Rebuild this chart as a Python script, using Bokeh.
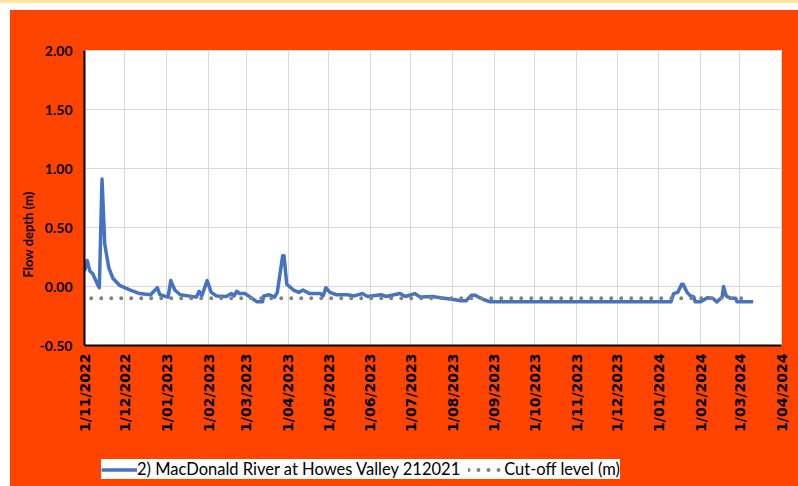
import pandas as pd
from bokeh.plotting import figure
from bokeh.layouts import column, row
from bokeh.models import (ColumnDataSource, FixedTicker, MonthsTicker, DatetimeTickFormatter,
                          NumeralTickFormatter, Legend, LegendItem, Range1d, Title, Spacer)
from bokeh.embed import file_html
from bokeh.resources import INLINE
from math import pi

# ---- data ----
river_dates = ["2022-11-01", "2022-11-03", "2022-11-05", "2022-11-07", "2022-11-11", "2022-11-12",
               "2022-11-14", "2022-11-16", "2022-11-19", "2022-11-22", "2022-11-27", "2022-12-05",
               "2022-12-12", "2022-12-20", "2022-12-25", "2022-12-27", "2023-01-02", "2023-01-04",
               "2023-01-07", "2023-01-11", "2023-01-23", "2023-01-25", "2023-01-27", "2023-01-31",
               "2023-02-03", "2023-02-07", "2023-02-14", "2023-02-18", "2023-02-20", "2023-02-22",
               "2023-02-24", "2023-02-28", "2023-03-04", "2023-03-09", "2023-03-13", "2023-03-14",
               "2023-03-18", "2023-03-22", "2023-03-24", "2023-03-28", "2023-03-29", "2023-03-31",
               "2023-04-05", "2023-04-09", "2023-04-12", "2023-04-17", "2023-04-25", "2023-04-27",
               "2023-04-29", "2023-05-02", "2023-05-07", "2023-05-15", "2023-05-20", "2023-05-26",
               "2023-05-30", "2023-06-09", "2023-06-13", "2023-06-23", "2023-06-27", "2023-07-04",
               "2023-07-08", "2023-07-17", "2023-07-23", "2023-08-02", "2023-08-07", "2023-08-11",
               "2023-08-15", "2023-08-18", "2023-08-21", "2023-08-24", "2023-08-29", "2023-10-15",
               "2023-12-01", "2024-01-10", "2024-01-12", "2024-01-15", "2024-01-18", "2024-01-19",
               "2024-01-22", "2024-01-24", "2024-01-27", "2024-01-28", "2024-02-01", "2024-02-06",
               "2024-02-10", "2024-02-13", "2024-02-17", "2024-02-18", "2024-02-20", "2024-02-23",
               "2024-02-27", "2024-02-28", "2024-03-11"]
river_depth = [0.13, 0.22, 0.13, 0.11, 0.01, -0.01,
               0.91, 0.36, 0.16, 0.07, 0.01, -0.03,
               -0.06, -0.07, -0.01, -0.07, -0.09, 0.05,
               -0.03, -0.07, -0.09, -0.04, -0.08, 0.05,
               -0.05, -0.08, -0.085, -0.06, -0.08, -0.04,
               -0.06, -0.06, -0.09, -0.13, -0.13, -0.08,
               -0.07, -0.09, -0.05, 0.26, 0.26, 0.02,
               -0.03, -0.05, -0.03, -0.06, -0.06, -0.08,
               -0.01, -0.05, -0.07, -0.07, -0.08, -0.06,
               -0.085, -0.07, -0.085, -0.06, -0.085, -0.06,
               -0.09, -0.085, -0.095, -0.11, -0.12, -0.12,
               -0.075, -0.075, -0.095, -0.11, -0.13, -0.13,
               -0.13, -0.13, -0.06, -0.05, 0.02, 0.02,
               -0.05, -0.075, -0.09, -0.13, -0.13, -0.095,
               -0.10, -0.13, -0.09, 0.0, -0.08, -0.10,
               -0.10, -0.13, -0.13]
cutoff_dates = ["2022-11-06", "2024-03-08"]
cutoff_level = [-0.10, -0.10]

y_ticks = [-0.5, 0.0, 0.5, 1.0, 1.5, 2.0]
x_start, x_end = "2022-11-01", "2024-04-01"

series_name = "2) MacDonald River at Howes Valley 212021"
cutoff_name = "Cut-off level (m)"
y_title = "Flow depth (m)"

ORANGE = "#FF4400"
BLUE = "#4472C4"
GREY = "#808080"

river = ColumnDataSource(dict(x=pd.to_datetime(river_dates), y=river_depth))
cutoff = ColumnDataSource(dict(x=pd.to_datetime(cutoff_dates), y=cutoff_level))

p = figure(width=788, height=430, x_axis_type="datetime", output_backend="svg",
           toolbar_location=None,
           x_range=Range1d(pd.Timestamp(x_start), pd.Timestamp(x_end)),
           y_range=Range1d(y_ticks[0], y_ticks[-1]))
p.min_border = 0
p.min_border_left = 74
p.min_border_right = 17
p.min_border_top = 40
p.min_border_bottom = 95
p.border_fill_color = ORANGE
p.background_fill_color = "white"
p.outline_line_color = "#d9d9d9"

line_style = dict(line_color=BLUE, line_width=3.5, line_join="round")
dot_style = dict(line_color=GREY, line_width=4, line_dash="0 10", line_cap="round")

p.line("x", "y", source=river, **line_style)
p.line("x", "y", source=cutoff, **dot_style)

# axes
p.xaxis.ticker = MonthsTicker(months=list(range(12)))
p.xaxis.formatter = DatetimeTickFormatter(days="1/%m/%Y", months="1/%m/%Y", years="1/%m/%Y")
p.xaxis.major_label_orientation = pi / 2
p.xaxis.major_label_text_font = "DejaVu Sans"
p.xaxis.major_label_text_font_style = "bold"
p.xaxis.major_label_text_font_size = "14px"
p.xaxis.major_label_text_color = "black"
p.xaxis.major_label_standoff = 8
p.xaxis.minor_tick_line_color = None
p.xaxis.major_tick_out = 0
p.xaxis.major_tick_in = 0
p.xaxis.axis_line_color = "black"
p.xaxis.axis_line_width = 2

p.yaxis.ticker = FixedTicker(ticks=y_ticks)
p.yaxis.formatter = NumeralTickFormatter(format="0.00")
p.yaxis.major_label_text_font = "Lato"
p.yaxis.major_label_text_font_style = "bold"
p.yaxis.major_label_text_font_size = "14px"
p.yaxis.major_label_text_color = "black"
p.yaxis.major_label_standoff = 12
p.yaxis.minor_tick_line_color = None
p.yaxis.major_tick_out = 0
p.yaxis.major_tick_in = 0
p.yaxis.axis_line_color = "black"
p.yaxis.axis_line_width = 2

p.xgrid.grid_line_color = "#d9d9d9"
p.ygrid.grid_line_color = "#d9d9d9"
p.xgrid.ticker = p.xaxis.ticker
p.ygrid.ticker = p.yaxis.ticker

p.add_layout(Title(text=y_title, align="left", offset=68, standoff=2,
                   text_font="Lato", text_font_style="bold", text_font_size="13px",
                   text_color="black"), "left")

# ---- legend strip (separate figure below the chart) ----
leg = figure(width=788, height=46, output_backend="svg", toolbar_location=None,
             x_range=Range1d(0, 1), y_range=Range1d(0, 1),
             x_axis_location=None, y_axis_location=None)
leg.min_border = 0
leg.border_fill_alpha = 0
leg.background_fill_alpha = 0
leg.outline_line_color = None
leg.grid.visible = False
offscreen = ColumnDataSource(dict(x=[5, 6], y=[5, 6]))
g1 = leg.line("x", "y", source=offscreen, **line_style)
g2 = leg.line("x", "y", source=offscreen, **dot_style)

legend = Legend(items=[LegendItem(label=series_name, renderers=[g1]),
                       LegendItem(label=cutoff_name, renderers=[g2])],
                orientation="horizontal", location=(91, 7),
                label_text_font="Lato", label_text_font_size="16.5px",
                label_text_color="black", glyph_width=36, glyph_height=17,
                label_height=17, label_standoff=0, spacing=8, padding=12, margin=0,
                border_line_color=None, background_fill_color="white",
                background_fill_alpha=1.0)
leg.add_layout(legend, "center")

top_strip = Spacer(width=798, height=3, styles={"background-color": "#FFE699"})
top_gap = Spacer(width=798, height=7)
left_gap = Spacer(width=10, height=476)

chart = column(p, row(leg), styles={"background-color": ORANGE})
page = column(top_strip, top_gap, row(left_gap, chart))
open("out.html", "w").write(file_html(page, INLINE))
